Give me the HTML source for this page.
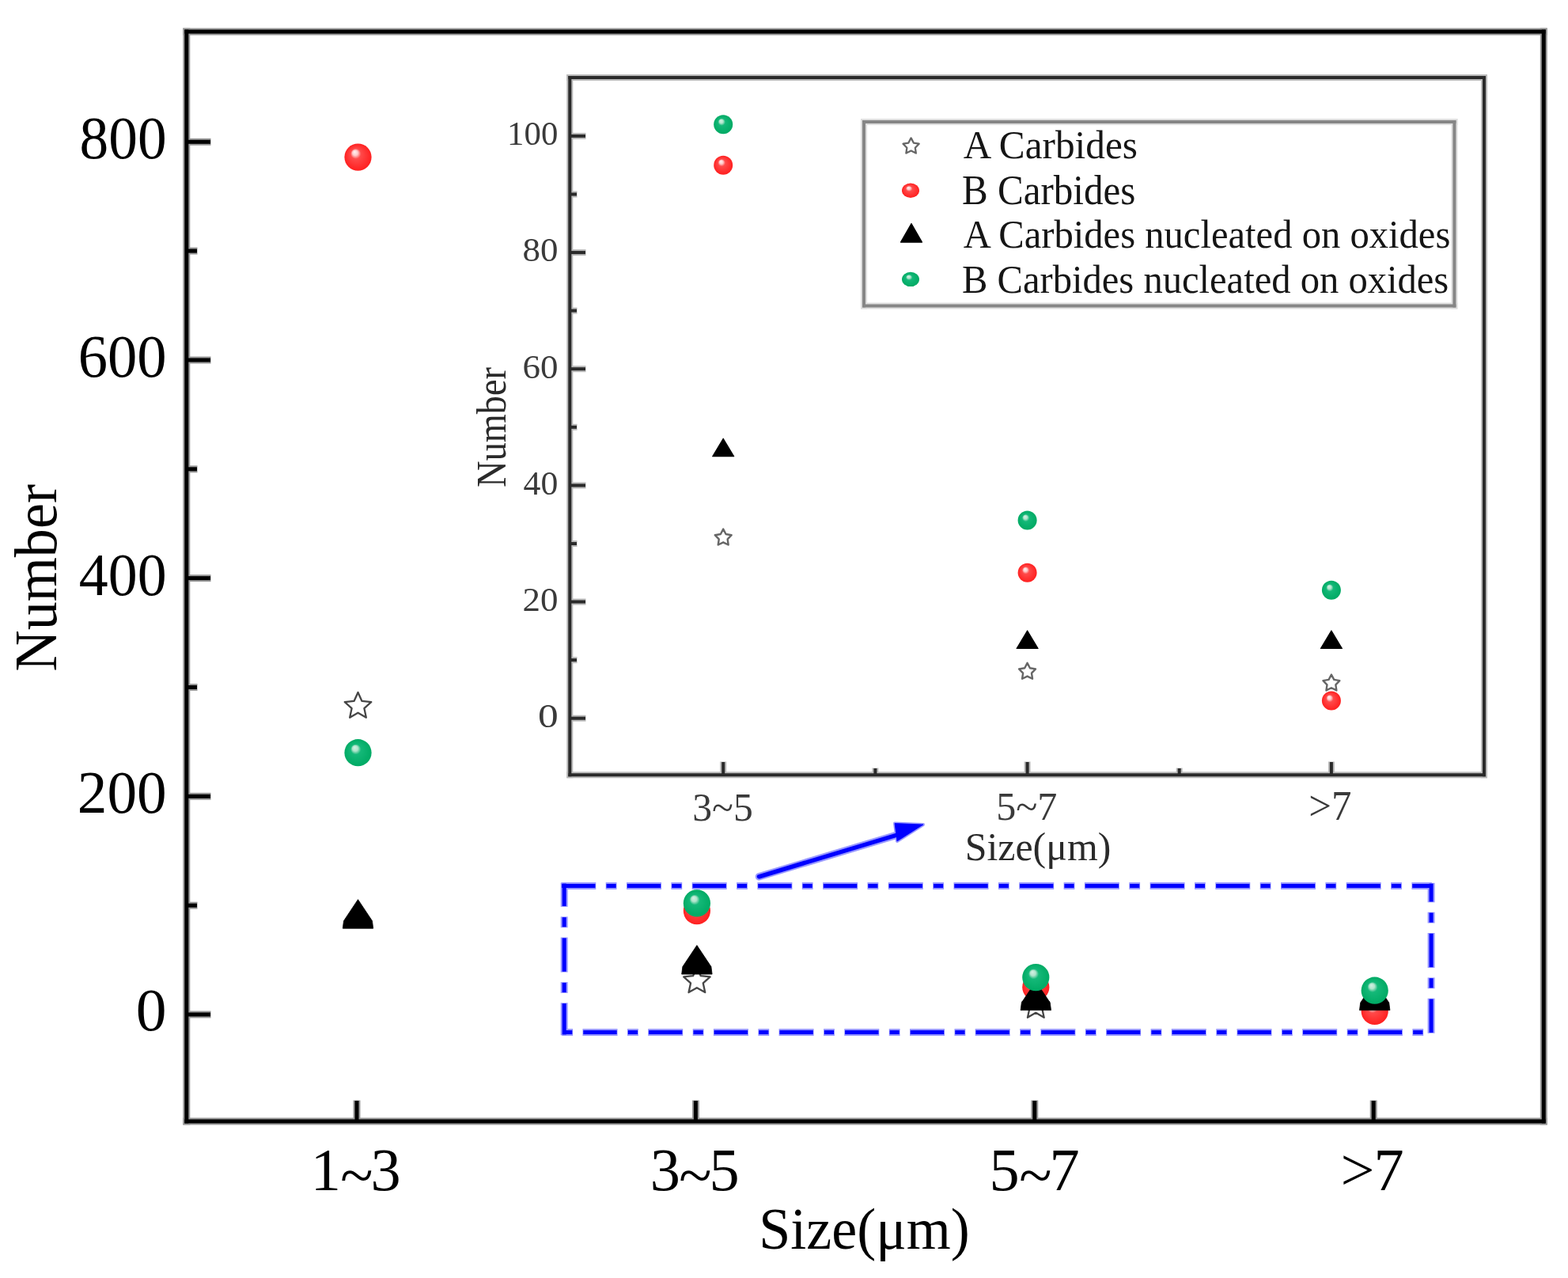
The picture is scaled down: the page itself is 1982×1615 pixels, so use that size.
<!DOCTYPE html>
<html><head><meta charset="utf-8"><title>Carbide size distribution</title>
<style>
html,body{margin:0;padding:0;background:#fff;}
svg{display:block;}
text{font-family:'Liberation Serif','Times New Roman',serif;}
</style></head>
<body>
<svg width="1982" height="1615" viewBox="0 0 1982 1615">
<defs>
<radialGradient id="gr" cx="0.5" cy="0.5" r="0.5" fx="0.37" fy="0.3">
<stop offset="0" stop-color="#fff4f4"/>
<stop offset="0.2" stop-color="#ffc8c8"/>
<stop offset="0.38" stop-color="#ff4a4a"/>
<stop offset="1" stop-color="#ff2020"/>
</radialGradient>
<radialGradient id="gg" cx="0.5" cy="0.5" r="0.5" fx="0.37" fy="0.3">
<stop offset="0" stop-color="#d4f2e4"/>
<stop offset="0.2" stop-color="#b0e4cc"/>
<stop offset="0.38" stop-color="#14b878"/>
<stop offset="1" stop-color="#00aa64"/>
</radialGradient>
</defs>
<rect width="1982" height="1615" fill="#fff"/>
<g stroke="#9a9a9a" stroke-width="9.0" stroke-linecap="butt"><line x1="231.3" y1="40.0" x2="1955.8" y2="40.0"/><line x1="1951.3" y1="35.5" x2="1951.3" y2="1421.5"/><line x1="1955.8" y1="1417.0" x2="231.3" y2="1417.0"/><line x1="235.8" y1="1421.5" x2="235.8" y2="35.5"/><line x1="235.3" y1="1282.0" x2="266.5" y2="1282.0"/><line x1="235.3" y1="1006.3" x2="266.5" y2="1006.3"/><line x1="235.3" y1="730.6" x2="266.5" y2="730.6"/><line x1="235.3" y1="455.0" x2="266.5" y2="455.0"/><line x1="235.3" y1="179.3" x2="266.5" y2="179.3"/><line x1="235.3" y1="1144.2" x2="249.5" y2="1144.2"/><line x1="235.3" y1="868.5" x2="249.5" y2="868.5"/><line x1="235.3" y1="592.8" x2="249.5" y2="592.8"/><line x1="235.3" y1="317.1" x2="249.5" y2="317.1"/><line x1="451.0" y1="1417.5" x2="451.0" y2="1390.5"/><line x1="879.4" y1="1417.5" x2="879.4" y2="1390.5"/><line x1="1307.8" y1="1417.5" x2="1307.8" y2="1390.5"/><line x1="1736.2" y1="1417.5" x2="1736.2" y2="1390.5"/></g>
<g stroke="#000" stroke-width="5.0" stroke-linecap="butt"><line x1="233.3" y1="40.0" x2="1953.8" y2="40.0"/><line x1="1951.3" y1="37.5" x2="1951.3" y2="1419.5"/><line x1="1953.8" y1="1417.0" x2="233.3" y2="1417.0"/><line x1="235.8" y1="1419.5" x2="235.8" y2="37.5"/><line x1="235.8" y1="1282.0" x2="266.0" y2="1282.0"/><line x1="235.8" y1="1006.3" x2="266.0" y2="1006.3"/><line x1="235.8" y1="730.6" x2="266.0" y2="730.6"/><line x1="235.8" y1="455.0" x2="266.0" y2="455.0"/><line x1="235.8" y1="179.3" x2="266.0" y2="179.3"/><line x1="235.8" y1="1144.2" x2="249.0" y2="1144.2"/><line x1="235.8" y1="868.5" x2="249.0" y2="868.5"/><line x1="235.8" y1="592.8" x2="249.0" y2="592.8"/><line x1="235.8" y1="317.1" x2="249.0" y2="317.1"/><line x1="451.0" y1="1417.0" x2="451.0" y2="1391.0"/><line x1="879.4" y1="1417.0" x2="879.4" y2="1391.0"/><line x1="1307.8" y1="1417.0" x2="1307.8" y2="1391.0"/><line x1="1736.2" y1="1417.0" x2="1736.2" y2="1391.0"/></g>
<g stroke="#bababa" stroke-width="8.0" stroke-linecap="butt"><line x1="716.3" y1="98.0" x2="1880.0" y2="98.0"/><line x1="1876.0" y1="94.0" x2="1876.0" y2="983.2"/><line x1="1880.0" y1="979.2" x2="716.3" y2="979.2"/><line x1="720.3" y1="983.2" x2="720.3" y2="94.0"/><line x1="719.8" y1="907.7" x2="740.5" y2="907.7"/><line x1="719.8" y1="760.5" x2="740.5" y2="760.5"/><line x1="719.8" y1="613.4" x2="740.5" y2="613.4"/><line x1="719.8" y1="466.2" x2="740.5" y2="466.2"/><line x1="719.8" y1="319.1" x2="740.5" y2="319.1"/><line x1="719.8" y1="171.9" x2="740.5" y2="171.9"/><line x1="719.8" y1="834.1" x2="729.5" y2="834.1"/><line x1="719.8" y1="687.0" x2="729.5" y2="687.0"/><line x1="719.8" y1="539.8" x2="729.5" y2="539.8"/><line x1="719.8" y1="392.6" x2="729.5" y2="392.6"/><line x1="719.8" y1="245.5" x2="729.5" y2="245.5"/><line x1="914.2" y1="979.7" x2="914.2" y2="962.5"/><line x1="1298.6" y1="979.7" x2="1298.6" y2="962.5"/><line x1="1682.9" y1="979.7" x2="1682.9" y2="962.5"/><line x1="1106.4" y1="979.7" x2="1106.4" y2="970.5"/><line x1="1490.7" y1="979.7" x2="1490.7" y2="970.5"/></g>
<g stroke="#2a2a2a" stroke-width="4.0" stroke-linecap="butt"><line x1="718.3" y1="98.0" x2="1878.0" y2="98.0"/><line x1="1876.0" y1="96.0" x2="1876.0" y2="981.2"/><line x1="1878.0" y1="979.2" x2="718.3" y2="979.2"/><line x1="720.3" y1="981.2" x2="720.3" y2="96.0"/><line x1="720.3" y1="907.7" x2="740.0" y2="907.7"/><line x1="720.3" y1="760.5" x2="740.0" y2="760.5"/><line x1="720.3" y1="613.4" x2="740.0" y2="613.4"/><line x1="720.3" y1="466.2" x2="740.0" y2="466.2"/><line x1="720.3" y1="319.1" x2="740.0" y2="319.1"/><line x1="720.3" y1="171.9" x2="740.0" y2="171.9"/><line x1="720.3" y1="834.1" x2="729.0" y2="834.1"/><line x1="720.3" y1="687.0" x2="729.0" y2="687.0"/><line x1="720.3" y1="539.8" x2="729.0" y2="539.8"/><line x1="720.3" y1="392.6" x2="729.0" y2="392.6"/><line x1="720.3" y1="245.5" x2="729.0" y2="245.5"/><line x1="914.2" y1="979.2" x2="914.2" y2="963.0"/><line x1="1298.6" y1="979.2" x2="1298.6" y2="963.0"/><line x1="1682.9" y1="979.2" x2="1682.9" y2="963.0"/><line x1="1106.4" y1="979.2" x2="1106.4" y2="971.0"/><line x1="1490.7" y1="979.2" x2="1490.7" y2="971.0"/></g>
<rect x="1092" y="154" width="746.4" height="232.4" fill="#fff"/>
<g stroke="#dedede" stroke-width="8.0" stroke-linecap="butt"><line x1="1088.0" y1="154.0" x2="1842.4" y2="154.0"/><line x1="1838.4" y1="150.0" x2="1838.4" y2="390.4"/><line x1="1842.4" y1="386.4" x2="1088.0" y2="386.4"/><line x1="1092.0" y1="390.4" x2="1092.0" y2="150.0"/></g>
<g stroke="#868686" stroke-width="4.0" stroke-linecap="butt"><line x1="1090.0" y1="154.0" x2="1840.4" y2="154.0"/><line x1="1838.4" y1="152.0" x2="1838.4" y2="388.4"/><line x1="1840.4" y1="386.4" x2="1090.0" y2="386.4"/><line x1="1092.0" y1="388.4" x2="1092.0" y2="152.0"/></g>
<g font-family="'Liberation Serif','Times New Roman',serif">
<text font-size="74" fill="#000" transform="translate(100.53,200.28) scale(0.9914,1.0367)">800</text>
<text font-size="74" fill="#000" transform="translate(98.67,475.96) scale(1.0086,1.0367)">600</text>
<text font-size="74" fill="#000" transform="translate(99.80,751.64) scale(0.9981,1.0367)">400</text>
<text font-size="74" fill="#000" transform="translate(97.75,1027.32) scale(1.0171,1.0367)">200</text>
<text font-size="74" fill="#000" transform="translate(171.85,1302.20) scale(1.0484,1.0204)">0</text>
<text font-size="74" fill="#000" transform="translate(959.34,1577.73) scale(0.9729,1.0045)">Size(μm)</text>
<text font-size="74" fill="#000" transform="translate(71.10,848.45) rotate(-90) scale(0.9750,1.0173)">Number</text>
<text font-size="40" fill="#3a3a3a" transform="translate(641.12,183.30) scale(1.0704,1.0423)">100</text>
<text font-size="40" fill="#3a3a3a" transform="translate(660.45,330.46) scale(1.1250,1.0423)">80</text>
<text font-size="40" fill="#3a3a3a" transform="translate(660.45,477.62) scale(1.1250,1.0423)">60</text>
<text font-size="40" fill="#3a3a3a" transform="translate(661.61,624.78) scale(1.0946,1.0423)">40</text>
<text font-size="40" fill="#3a3a3a" transform="translate(660.45,771.94) scale(1.1250,1.0423)">20</text>
<text font-size="40" fill="#3a3a3a" transform="translate(680.02,919.10) scale(1.2875,1.0423)">0</text>
<text font-size="49" fill="#3a3a3a" transform="translate(875.27,1036.70) scale(1.0125,1.0469)">3~5</text>
<text font-size="49" fill="#3a3a3a" transform="translate(1259.13,1036.10) scale(1.0225,1.0406)">5~7</text>
<text font-size="49" fill="#3a3a3a" transform="translate(1654.22,1036.30) scale(1.0388,1.0625)">&gt;7</text>
<text font-size="49" fill="#2a2a2a" transform="translate(1219.75,1086.70) scale(1.0182,1.0302)">Size(μm)</text>
<text font-size="52" fill="#2a2a2a" transform="translate(639.00,615.68) rotate(-90) scale(0.8893,1.0243)">Number</text>
<text font-size="49" fill="#151515" transform="translate(1217.70,200.40) scale(1.0055,1.0382)">A Carbides</text>
<text font-size="49" fill="#151515" transform="translate(1216.00,257.80) scale(1.0014,1.0559)">B Carbides</text>
<text font-size="49" fill="#151515" transform="translate(1217.70,312.70) scale(0.9924,1.0294)">A Carbides nucleated on oxides</text>
<text font-size="49" fill="#151515" transform="translate(1216.01,369.90) scale(0.9919,1.0265)">B Carbides nucleated on oxides</text>
<text x="392.8 430.2 468.5" y="1503.5" dy="0 7 -7" font-size="76.3" fill="#000">1~3</text>
<text x="821.8 858.2 896.4" y="1503.5" dy="0 7 -7" font-size="76.3" fill="#000">3~5</text>
<text x="1250.6 1288.2 1326.6" y="1503.5" dy="0 7 -7" font-size="76.3" fill="#000">5~7</text>
<text x="1694.6 1736.5" y="1503.5" dy="0 0" font-size="76.3" fill="#000">&gt;7</text>
</g>
<polygon points="1151.60,174.40 1154.84,180.54 1161.68,181.72 1156.84,186.70 1157.83,193.58 1151.60,190.51 1145.37,193.58 1146.36,186.70 1141.52,181.72 1148.36,180.54" fill="none" stroke="#666" stroke-width="2.3" stroke-linejoin="round"/>
<ellipse cx="1151.0" cy="240.7" rx="11.0" ry="9.2" fill="url(#gr)"/>
<polygon points="1152.0,282.5 1165.5,306.1 1138.5,306.1" fill="#000" stroke="#000" stroke-width="1.2" stroke-linejoin="round"/>
<ellipse cx="1151.0" cy="352.9" rx="11.0" ry="9.2" fill="url(#gg)"/>
<polygon points="452.50,874.91 457.36,885.82 469.24,887.07 460.37,895.07 462.85,906.75 452.50,900.78 442.15,906.75 444.63,895.07 435.76,887.07 447.64,885.82" fill="none" stroke="#464646" stroke-width="2.3" stroke-linejoin="round"/>
<polygon points="880.90,1222.27 885.76,1233.18 897.64,1234.43 888.77,1242.43 891.25,1254.11 880.90,1248.14 870.55,1254.11 873.03,1242.43 864.16,1234.43 876.04,1233.18" fill="none" stroke="#464646" stroke-width="2.3" stroke-linejoin="round"/>
<polygon points="1309.30,1253.97 1314.16,1264.88 1326.04,1266.13 1317.17,1274.13 1319.65,1285.81 1309.30,1279.84 1298.95,1285.81 1301.43,1274.13 1292.56,1266.13 1304.44,1264.88" fill="none" stroke="#464646" stroke-width="2.3" stroke-linejoin="round"/>
<polygon points="1737.70,1256.73 1742.56,1267.64 1754.44,1268.89 1745.57,1276.89 1748.05,1288.57 1737.70,1282.60 1727.35,1288.57 1729.83,1276.89 1720.96,1268.89 1732.84,1267.64" fill="none" stroke="#464646" stroke-width="2.3" stroke-linejoin="round"/>
<polygon points="914.20,668.60 917.56,674.97 924.66,676.20 919.64,681.37 920.67,688.50 914.20,685.32 907.73,688.50 908.76,681.37 903.74,676.20 910.84,674.97" fill="none" stroke="#666" stroke-width="2.4" stroke-linejoin="round"/>
<polygon points="1298.55,837.84 1301.91,844.21 1309.01,845.44 1303.99,850.60 1305.02,857.74 1298.55,854.56 1292.08,857.74 1293.11,850.60 1288.09,845.44 1295.19,844.21" fill="none" stroke="#666" stroke-width="2.4" stroke-linejoin="round"/>
<polygon points="1682.90,852.55 1686.26,858.92 1693.36,860.15 1688.34,865.32 1689.37,872.45 1682.90,869.27 1676.43,872.45 1677.46,865.32 1672.44,860.15 1679.54,858.92" fill="none" stroke="#666" stroke-width="2.4" stroke-linejoin="round"/>
<circle cx="452.5" cy="198.6" r="17.1" fill="url(#gr)"/>
<circle cx="880.9" cy="1151.1" r="17.1" fill="url(#gr)"/>
<circle cx="1309.3" cy="1247.5" r="17.1" fill="url(#gr)"/>
<circle cx="1737.7" cy="1277.9" r="17.1" fill="url(#gr)"/>
<circle cx="914.2" cy="208.7" r="12.0" fill="url(#gr)"/>
<circle cx="1298.6" cy="723.8" r="12.0" fill="url(#gr)"/>
<circle cx="1682.9" cy="885.6" r="12.0" fill="url(#gr)"/>
<polygon points="452.5,1136.7 470.5,1163.7 471.7,1173.2 433.3,1173.2 434.5,1163.7" fill="#000" stroke="#000" stroke-width="0.8" stroke-linejoin="round"/>
<polygon points="880.9,1194.6 898.9,1221.6 900.1,1231.1 861.7,1231.1 862.9,1221.6" fill="#000" stroke="#000" stroke-width="0.8" stroke-linejoin="round"/>
<polygon points="1309.3,1240.1 1327.3,1267.1 1328.5,1276.6 1290.1,1276.6 1291.3,1267.1" fill="#000" stroke="#000" stroke-width="0.8" stroke-linejoin="round"/>
<polygon points="1737.7,1240.1 1755.7,1267.1 1756.9,1276.6 1718.5,1276.6 1719.7,1267.1" fill="#000" stroke="#000" stroke-width="0.8" stroke-linejoin="round"/>
<polygon points="914.2,554.2 927.7,576.7 900.7,576.7" fill="#000" stroke="#000" stroke-width="1.2" stroke-linejoin="round"/>
<polygon points="1298.6,797.0 1312.1,819.5 1285.1,819.5" fill="#000" stroke="#000" stroke-width="1.2" stroke-linejoin="round"/>
<polygon points="1682.9,797.0 1696.4,819.5 1669.4,819.5" fill="#000" stroke="#000" stroke-width="1.2" stroke-linejoin="round"/>
<circle cx="452.5" cy="951.2" r="17.1" fill="url(#gg)"/>
<circle cx="880.9" cy="1141.4" r="17.1" fill="url(#gg)"/>
<circle cx="1309.3" cy="1235.1" r="17.1" fill="url(#gg)"/>
<circle cx="1737.7" cy="1251.7" r="17.1" fill="url(#gg)"/>
<circle cx="914.2" cy="157.2" r="12.0" fill="url(#gg)"/>
<circle cx="1298.6" cy="657.5" r="12.0" fill="url(#gg)"/>
<circle cx="1682.9" cy="745.8" r="12.0" fill="url(#gg)"/>
<g stroke="#9999ff" stroke-width="9.0" stroke-linecap="butt"><line x1="709.4" y1="1119.5" x2="753.3" y2="1119.5"/><line x1="765.7" y1="1119.5" x2="779.5" y2="1119.5"/><line x1="792.0" y1="1119.5" x2="836.0" y2="1119.5"/><line x1="848.4" y1="1119.5" x2="862.2" y2="1119.5"/><line x1="874.7" y1="1119.5" x2="918.7" y2="1119.5"/><line x1="931.1" y1="1119.5" x2="944.9" y2="1119.5"/><line x1="957.4" y1="1119.5" x2="1001.4" y2="1119.5"/><line x1="1013.8" y1="1119.5" x2="1027.6" y2="1119.5"/><line x1="1040.1" y1="1119.5" x2="1084.1" y2="1119.5"/><line x1="1096.5" y1="1119.5" x2="1110.3" y2="1119.5"/><line x1="1122.8" y1="1119.5" x2="1166.8" y2="1119.5"/><line x1="1179.2" y1="1119.5" x2="1193.0" y2="1119.5"/><line x1="1205.5" y1="1119.5" x2="1249.5" y2="1119.5"/><line x1="1261.9" y1="1119.5" x2="1275.7" y2="1119.5"/><line x1="1288.2" y1="1119.5" x2="1332.2" y2="1119.5"/><line x1="1344.6" y1="1119.5" x2="1358.4" y2="1119.5"/><line x1="1370.9" y1="1119.5" x2="1414.9" y2="1119.5"/><line x1="1427.3" y1="1119.5" x2="1441.1" y2="1119.5"/><line x1="1453.6" y1="1119.5" x2="1497.6" y2="1119.5"/><line x1="1510.0" y1="1119.5" x2="1523.8" y2="1119.5"/><line x1="1536.3" y1="1119.5" x2="1580.3" y2="1119.5"/><line x1="1592.7" y1="1119.5" x2="1606.5" y2="1119.5"/><line x1="1619.0" y1="1119.5" x2="1663.0" y2="1119.5"/><line x1="1675.4" y1="1119.5" x2="1689.2" y2="1119.5"/><line x1="1701.7" y1="1119.5" x2="1745.7" y2="1119.5"/><line x1="1758.1" y1="1119.5" x2="1771.9" y2="1119.5"/><line x1="1784.4" y1="1119.5" x2="1809.9" y2="1119.5"/><line x1="1809.1" y1="1115.8" x2="1809.1" y2="1140.3"/><line x1="1809.1" y1="1152.7" x2="1809.1" y2="1166.5"/><line x1="1809.1" y1="1179.0" x2="1809.1" y2="1223.0"/><line x1="1809.1" y1="1235.4" x2="1809.1" y2="1249.2"/><line x1="1809.1" y1="1261.7" x2="1809.1" y2="1305.7"/><line x1="1799.2" y1="1304.5" x2="1785.4" y2="1304.5"/><line x1="1772.9" y1="1304.5" x2="1728.9" y2="1304.5"/><line x1="1716.5" y1="1304.5" x2="1702.7" y2="1304.5"/><line x1="1690.2" y1="1304.5" x2="1646.2" y2="1304.5"/><line x1="1633.8" y1="1304.5" x2="1620.0" y2="1304.5"/><line x1="1607.5" y1="1304.5" x2="1563.5" y2="1304.5"/><line x1="1551.1" y1="1304.5" x2="1537.3" y2="1304.5"/><line x1="1524.8" y1="1304.5" x2="1480.8" y2="1304.5"/><line x1="1468.4" y1="1304.5" x2="1454.6" y2="1304.5"/><line x1="1442.1" y1="1304.5" x2="1398.1" y2="1304.5"/><line x1="1385.7" y1="1304.5" x2="1371.9" y2="1304.5"/><line x1="1359.4" y1="1304.5" x2="1315.4" y2="1304.5"/><line x1="1303.0" y1="1304.5" x2="1289.2" y2="1304.5"/><line x1="1276.7" y1="1304.5" x2="1232.7" y2="1304.5"/><line x1="1220.3" y1="1304.5" x2="1206.5" y2="1304.5"/><line x1="1194.0" y1="1304.5" x2="1150.0" y2="1304.5"/><line x1="1137.6" y1="1304.5" x2="1123.8" y2="1304.5"/><line x1="1111.3" y1="1304.5" x2="1067.3" y2="1304.5"/><line x1="1054.9" y1="1304.5" x2="1041.1" y2="1304.5"/><line x1="1028.6" y1="1304.5" x2="984.6" y2="1304.5"/><line x1="972.2" y1="1304.5" x2="958.4" y2="1304.5"/><line x1="945.9" y1="1304.5" x2="901.9" y2="1304.5"/><line x1="889.5" y1="1304.5" x2="875.7" y2="1304.5"/><line x1="863.2" y1="1304.5" x2="819.2" y2="1304.5"/><line x1="806.8" y1="1304.5" x2="793.0" y2="1304.5"/><line x1="780.5" y1="1304.5" x2="736.5" y2="1304.5"/><line x1="724.1" y1="1304.5" x2="710.3" y2="1304.5"/><line x1="713.2" y1="1308.2" x2="713.2" y2="1267.3"/><line x1="713.2" y1="1254.9" x2="713.2" y2="1241.1"/><line x1="713.2" y1="1228.6" x2="713.2" y2="1184.6"/><line x1="713.2" y1="1172.2" x2="713.2" y2="1158.4"/><line x1="713.2" y1="1145.9" x2="713.2" y2="1115.8"/></g>
<g stroke="#0000ff" stroke-width="5.0" stroke-linecap="butt"><line x1="710.2" y1="1119.5" x2="752.5" y2="1119.5"/><line x1="766.5" y1="1119.5" x2="778.7" y2="1119.5"/><line x1="792.8" y1="1119.5" x2="835.2" y2="1119.5"/><line x1="849.2" y1="1119.5" x2="861.4" y2="1119.5"/><line x1="875.5" y1="1119.5" x2="917.9" y2="1119.5"/><line x1="931.9" y1="1119.5" x2="944.1" y2="1119.5"/><line x1="958.2" y1="1119.5" x2="1000.6" y2="1119.5"/><line x1="1014.6" y1="1119.5" x2="1026.8" y2="1119.5"/><line x1="1040.9" y1="1119.5" x2="1083.3" y2="1119.5"/><line x1="1097.3" y1="1119.5" x2="1109.5" y2="1119.5"/><line x1="1123.6" y1="1119.5" x2="1166.0" y2="1119.5"/><line x1="1180.0" y1="1119.5" x2="1192.2" y2="1119.5"/><line x1="1206.3" y1="1119.5" x2="1248.7" y2="1119.5"/><line x1="1262.7" y1="1119.5" x2="1274.9" y2="1119.5"/><line x1="1289.0" y1="1119.5" x2="1331.4" y2="1119.5"/><line x1="1345.4" y1="1119.5" x2="1357.6" y2="1119.5"/><line x1="1371.7" y1="1119.5" x2="1414.1" y2="1119.5"/><line x1="1428.1" y1="1119.5" x2="1440.3" y2="1119.5"/><line x1="1454.4" y1="1119.5" x2="1496.8" y2="1119.5"/><line x1="1510.8" y1="1119.5" x2="1523.0" y2="1119.5"/><line x1="1537.1" y1="1119.5" x2="1579.5" y2="1119.5"/><line x1="1593.5" y1="1119.5" x2="1605.7" y2="1119.5"/><line x1="1619.8" y1="1119.5" x2="1662.2" y2="1119.5"/><line x1="1676.2" y1="1119.5" x2="1688.4" y2="1119.5"/><line x1="1702.5" y1="1119.5" x2="1744.9" y2="1119.5"/><line x1="1758.9" y1="1119.5" x2="1771.1" y2="1119.5"/><line x1="1785.2" y1="1119.5" x2="1809.1" y2="1119.5"/><line x1="1809.1" y1="1116.6" x2="1809.1" y2="1139.5"/><line x1="1809.1" y1="1153.5" x2="1809.1" y2="1165.7"/><line x1="1809.1" y1="1179.8" x2="1809.1" y2="1222.2"/><line x1="1809.1" y1="1236.2" x2="1809.1" y2="1248.4"/><line x1="1809.1" y1="1262.5" x2="1809.1" y2="1304.9"/><line x1="1798.4" y1="1304.5" x2="1786.2" y2="1304.5"/><line x1="1772.1" y1="1304.5" x2="1729.7" y2="1304.5"/><line x1="1715.7" y1="1304.5" x2="1703.5" y2="1304.5"/><line x1="1689.4" y1="1304.5" x2="1647.0" y2="1304.5"/><line x1="1633.0" y1="1304.5" x2="1620.8" y2="1304.5"/><line x1="1606.7" y1="1304.5" x2="1564.3" y2="1304.5"/><line x1="1550.3" y1="1304.5" x2="1538.1" y2="1304.5"/><line x1="1524.0" y1="1304.5" x2="1481.6" y2="1304.5"/><line x1="1467.6" y1="1304.5" x2="1455.4" y2="1304.5"/><line x1="1441.3" y1="1304.5" x2="1398.9" y2="1304.5"/><line x1="1384.9" y1="1304.5" x2="1372.7" y2="1304.5"/><line x1="1358.6" y1="1304.5" x2="1316.2" y2="1304.5"/><line x1="1302.2" y1="1304.5" x2="1290.0" y2="1304.5"/><line x1="1275.9" y1="1304.5" x2="1233.5" y2="1304.5"/><line x1="1219.5" y1="1304.5" x2="1207.3" y2="1304.5"/><line x1="1193.2" y1="1304.5" x2="1150.8" y2="1304.5"/><line x1="1136.8" y1="1304.5" x2="1124.6" y2="1304.5"/><line x1="1110.5" y1="1304.5" x2="1068.1" y2="1304.5"/><line x1="1054.1" y1="1304.5" x2="1041.9" y2="1304.5"/><line x1="1027.8" y1="1304.5" x2="985.4" y2="1304.5"/><line x1="971.4" y1="1304.5" x2="959.2" y2="1304.5"/><line x1="945.1" y1="1304.5" x2="902.7" y2="1304.5"/><line x1="888.7" y1="1304.5" x2="876.5" y2="1304.5"/><line x1="862.4" y1="1304.5" x2="820.0" y2="1304.5"/><line x1="806.0" y1="1304.5" x2="793.8" y2="1304.5"/><line x1="779.7" y1="1304.5" x2="737.3" y2="1304.5"/><line x1="723.3" y1="1304.5" x2="711.1" y2="1304.5"/><line x1="713.2" y1="1307.4" x2="713.2" y2="1268.1"/><line x1="713.2" y1="1254.1" x2="713.2" y2="1241.9"/><line x1="713.2" y1="1227.8" x2="713.2" y2="1185.4"/><line x1="713.2" y1="1171.4" x2="713.2" y2="1159.2"/><line x1="713.2" y1="1145.1" x2="713.2" y2="1116.6"/></g>
<line x1="959.5" y1="1107.8" x2="1136" y2="1054.5" stroke="#9999ff" stroke-width="9.5" stroke-linecap="round"/>
<polygon points="1131,1040.5 1167,1042 1134,1063" fill="#9999ff" stroke="#9999ff" stroke-width="4" stroke-linejoin="round"/>
<line x1="959.5" y1="1107.8" x2="1136" y2="1054.5" stroke="#0000ff" stroke-width="5.4" stroke-linecap="round"/>
<polygon points="1131,1040.5 1167,1042 1134,1063" fill="#0000ff" stroke="#0000ff" stroke-width="0.8" stroke-linejoin="round"/>
</svg>
</body></html>
